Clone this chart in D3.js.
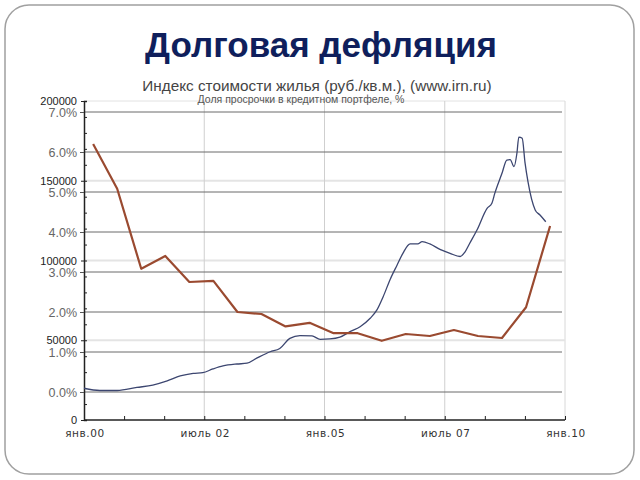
<!DOCTYPE html>
<html><head><meta charset="utf-8">
<script src="https://cdn.jsdelivr.net/npm/d3@7"></script>
<style>body{margin:0;background:#fff}svg{display:block}</style>
</head><body>
<script>
// ---- data ----
const title = "Долговая дефляция";
const subtitle1 = "Индекс стоимости жилья (руб./кв.м.), (www.irn.ru)";
const subtitle2 = "Доля просрочки в кредитном портфеле, %";

// price index (rub / sq.m), decimal year
const priceYears = [2000.00,2000.33,2000.69,2001.10,2001.43,2001.73,2002.00,2002.27,2002.47,2002.68,2002.89,2003.18,2003.39,2003.60,2003.87,2004.07,2004.28,2004.49,2004.74,2004.91,2005.11,2005.32,2005.53,2005.74,2005.95,2006.09,2006.22,2006.36,2006.51,2006.63,2006.78,2006.94,2007.03,2007.19,2007.40,2007.61,2007.82,2007.92,2008.02,2008.17,2008.38,2008.48,2008.54,2008.69,2008.79,2008.86,2008.94,2009.00,2009.04,2009.11,2009.17,2009.23,2009.38,2009.48,2009.60];
const priceValues = [19900,18500,18500,20400,21900,24500,27600,29200,29700,32000,33900,35100,35600,38900,42800,44800,51200,52900,52700,50600,50800,51900,55400,58500,63800,69000,77300,87800,97200,104500,110400,110400,111800,110400,107000,104500,102500,105300,110800,119100,132700,135900,142100,154700,163000,163300,158800,167200,177400,176600,161000,149400,131700,128500,124300];

// overdue share, %
const overdueYears = [2000.19,2000.69,2001.19,2001.69,2002.19,2002.69,2003.19,2003.69,2004.19,2004.69,2005.19,2005.69,2006.19,2006.69,2007.19,2007.69,2008.19,2008.69,2009.19,2009.69];
const overdueValues = [6.2,5.08,3.08,3.4,2.75,2.78,2.0,1.95,1.64,1.73,1.47,1.47,1.28,1.45,1.4,1.55,1.4,1.35,2.12,4.15];

const priceTicks = [0,50000,100000,150000,200000];
const pctTicks = [0,1,2,3,4,5,6,7];
const xTickValues = [2000,2000+10/12,2000+20/12,2002.5,2003+4/12,2004+2/12,2005,2005+10/12,2006+8/12,2007.5,2008+4/12,2009+2/12,2010];
const xLabelValues = [2000,2002.5,2005,2007.5,2010];
const xLabels = ["янв.00","июль 02","янв.05","июль 07","янв.10"];

// ---- drawing ----
const W=640,H=480;
const svg=d3.select("body").append("svg").attr("width",W).attr("height",H);

svg.append("rect").attr("x",5).attr("y",5).attr("width",629).attr("height",469)
  .attr("rx",24).attr("fill","#fff").attr("stroke","#a0a0a0").attr("stroke-width",1.5);

svg.append("text").attr("x",321).attr("y",57).attr("text-anchor","middle")
  .attr("font-family","Liberation Sans, Arial, sans-serif").attr("font-weight","bold")
  .attr("font-size",35).attr("fill","#0f1f5c").text(title);

const L=84,R=565,T=101,B=420;
const x=d3.scaleLinear().domain([2000,2010]).range([L,R]);
const yP=d3.scaleLinear().domain([0,200000]).range([B,T]);
const yC=d3.scaleLinear().domain([0,7]).range([392,112]);

svg.append("text").attr("x",317).attr("y",91).attr("text-anchor","middle")
  .attr("font-family","Liberation Sans, Arial, sans-serif").attr("font-size",15.3)
  .attr("fill","#444").text(subtitle1);

// frame / light grid
const g=svg.append("g");
g.append("line").attr("x1",L).attr("x2",R).attr("y1",T).attr("y2",T).attr("stroke","#e2e2e2");
g.append("line").attr("x1",R).attr("x2",R).attr("y1",T).attr("y2",B).attr("stroke","#d8d8d8");
g.selectAll(".pg").data(priceTicks.slice(1,4)).join("line")
  .attr("x1",L).attr("x2",R).attr("y1",d=>yP(d)).attr("y2",d=>yP(d))
  .attr("stroke","#e4e4e4").attr("stroke-width",2);
g.selectAll(".vg").data(xLabelValues.slice(1,4)).join("line")
  .attr("x1",d=>x(d)).attr("x2",d=>x(d)).attr("y1",T).attr("y2",B)
  .attr("stroke","#cfcfcf");
// percent gridlines
g.selectAll(".cg").data(pctTicks).join("line")
  .attr("x1",L).attr("x2",R-3).attr("y1",d=>yC(d)).attr("y2",d=>yC(d))
  .attr("stroke","#6a6a6a").attr("stroke-width",1);

svg.append("text").attr("x",301).attr("y",102.5).attr("text-anchor","middle")
  .attr("font-family","Liberation Sans, Arial, sans-serif").attr("font-size",10.5)
  .attr("fill","#555").text(subtitle2);

// price axis (left)
const pMinor=d3.range(0,200001,10000);
const ax=svg.append("g").attr("transform",`translate(${L},0)`)
  .call(d3.axisLeft(yP).tickValues(pMinor).tickSize(-3).tickFormat(()=>""));
ax.select(".domain").attr("stroke","#222").attr("stroke-width",1.5);
ax.selectAll(".tick line").attr("stroke","#222");
svg.append("g").attr("transform",`translate(${L},0)`)
  .call(d3.axisLeft(yP).tickValues(priceTicks).tickSize(3).tickPadding(4).tickFormat(d=>String(d)))
  .call(s=>{s.select(".domain").remove();s.selectAll(".tick line").attr("stroke","#222");
    s.selectAll("text").attr("font-family","Liberation Sans, Arial, sans-serif").attr("font-size",11).attr("fill","#222").attr("dy","0.32em");});

// percent labels
svg.append("g").attr("transform",`translate(${L},0)`)
  .call(d3.axisLeft(yC).tickValues(pctTicks).tickSize(4).tickPadding(3).tickFormat(d=>d.toFixed(1)+"%"))
  .call(s=>{s.select(".domain").remove();s.selectAll(".tick line").attr("stroke","#555");
    s.selectAll("text").attr("font-family","Liberation Sans, Arial, sans-serif").attr("font-size",12.5).attr("fill","#666");});

// x axis
const xa=svg.append("g").attr("transform",`translate(0,${B})`)
  .call(d3.axisBottom(x).tickValues(xTickValues).tickSize(-4).tickFormat(()=>""));
xa.select(".domain").attr("stroke","#222").attr("stroke-width",1.5).attr("d",`M${L},0H${R}`);
xa.selectAll(".tick line").attr("stroke","#222");
svg.append("g").selectAll("text").data(xLabelValues).join("text")
  .attr("x",d=>x(d)+1).attr("y",B+17).attr("text-anchor","middle")
  .attr("font-family","DejaVu Sans, sans-serif").attr("font-size",10.5).attr("fill","#333")
  .attr("letter-spacing","0.6")
  .text((d,i)=>xLabels[i]);

// lines
const priceData=priceYears.map((yv,i)=>[yv,priceValues[i]]);
svg.append("path").datum(priceData)
  .attr("d",d3.line().x(d=>x(d[0])).y(d=>yP(d[1])).curve(d3.curveMonotoneX))
  .attr("fill","none").attr("stroke","#3c4670").attr("stroke-width",1.3);

const odData=overdueYears.map((yv,i)=>[yv,overdueValues[i]]);
svg.append("path").datum(odData)
  .attr("d",d3.line().x(d=>x(d[0])).y(d=>yC(d[1])))
  .attr("fill","none").attr("stroke","#9a4a30").attr("stroke-width",2.2).attr("stroke-linejoin","round");
</script>
</body></html>
